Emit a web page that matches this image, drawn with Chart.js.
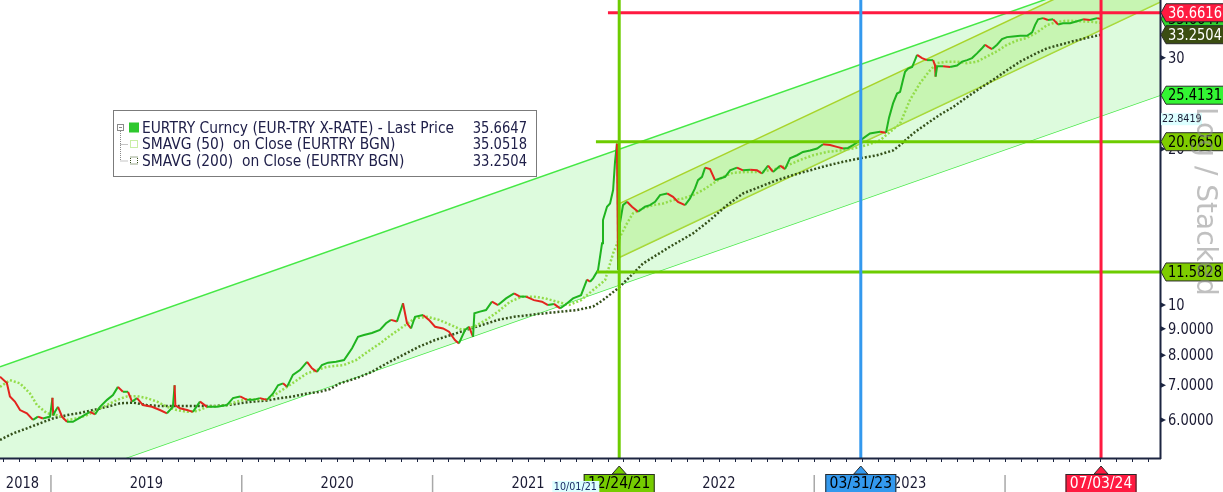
<!DOCTYPE html>
<html>
<head>
<meta charset="utf-8">
<script src="https://cdn.jsdelivr.net/npm/chart.js@4.4.1/dist/chart.umd.min.js"></script>
<style>
  html, body { margin: 0; padding: 0; background: #fff; }
</style>
</head>
<body>
<canvas id="chart" width="1223" height="492"></canvas>
<script>
// time is in decimal years, prices in TRY per EUR (log axis)
const priceT = [
  2018.733, 2018.769, 2018.785, 2018.811, 2018.838, 2018.874, 2018.906, 2018.932, 2018.958, 2018.995,
  2019.008, 2019.012, 2019.021, 2019.037, 2019.058, 2019.084, 2019.115, 2019.162, 2019.204, 2019.231,
  2019.257, 2019.294, 2019.325, 2019.351, 2019.377, 2019.404, 2019.425, 2019.451, 2019.482, 2019.529,
  2019.571, 2019.608, 2019.639, 2019.648, 2019.652, 2019.676, 2019.713, 2019.744, 2019.781, 2019.818,
  2019.870, 2019.922, 2019.954, 2019.991, 2020.027, 2020.059, 2020.095, 2020.132, 2020.164, 2020.190,
  2020.216, 2020.237, 2020.268, 2020.305, 2020.342, 2020.368, 2020.394, 2020.420, 2020.452, 2020.494,
  2020.536, 2020.578, 2020.609, 2020.640, 2020.682, 2020.724, 2020.756, 2020.782, 2020.813, 2020.845,
  2020.866, 2020.887, 2020.908, 2020.950, 2020.981, 2021.013, 2021.055, 2021.086, 2021.117, 2021.138,
  2021.170, 2021.191, 2021.212, 2021.219, 2021.248, 2021.280, 2021.311, 2021.343, 2021.385, 2021.427,
  2021.458, 2021.490, 2021.531, 2021.573, 2021.605, 2021.636, 2021.668, 2021.694, 2021.736, 2021.778,
  2021.809, 2021.825, 2021.841, 2021.867, 2021.888, 2021.893, 2021.914, 2021.930, 2021.946, 2021.956,
  2021.966, 2021.972, 2021.982, 2021.998, 2022.019, 2022.045, 2022.077, 2022.113, 2022.139, 2022.166,
  2022.192, 2022.229, 2022.260, 2022.286, 2022.323, 2022.349, 2022.375, 2022.391, 2022.412, 2022.428,
  2022.454, 2022.480, 2022.506, 2022.533, 2022.559, 2022.595, 2022.627, 2022.664, 2022.700, 2022.726,
  2022.758, 2022.784, 2022.821, 2022.847, 2022.873, 2022.910, 2022.941, 2022.978, 2023.015, 2023.046,
  2023.083, 2023.119, 2023.151, 2023.177, 2023.203, 2023.230, 2023.256, 2023.292, 2023.345, 2023.376,
  2023.392, 2023.413, 2023.434, 2023.450, 2023.465, 2023.476, 2023.492, 2023.513, 2023.528, 2023.539,
  2023.565, 2023.591, 2023.623, 2023.633, 2023.636, 2023.644, 2023.675, 2023.712, 2023.748, 2023.775,
  2023.801, 2023.827, 2023.853, 2023.879, 2023.895, 2023.911, 2023.932, 2023.958, 2023.984, 2024.010,
  2024.042, 2024.079, 2024.115, 2024.142, 2024.157, 2024.173, 2024.199, 2024.225, 2024.252, 2024.278,
  2024.304, 2024.341, 2024.377, 2024.409, 2024.445, 2024.482, 2024.503
]
const priceV = [
  7.27, 7.07, 6.66, 6.51, 6.27, 6.18, 6.00, 6.09, 6.04, 6.09,
  6.62, 6.12, 6.22, 6.36, 6.09, 5.95, 5.95, 6.09, 6.22, 6.15,
  6.36, 6.56, 6.70, 6.95, 6.80, 6.80, 6.51, 6.61, 6.41, 6.36,
  6.27, 6.18, 6.36, 7.00, 6.40, 6.32, 6.27, 6.22, 6.51, 6.36,
  6.36, 6.41, 6.61, 6.66, 6.56, 6.56, 6.61, 6.56, 6.75, 7.00,
  7.06, 6.95, 7.33, 7.49, 7.77, 7.55, 7.43, 7.66, 7.74, 7.77,
  7.83, 8.25, 8.68, 8.75, 8.83, 8.95, 9.22, 9.36, 9.29, 10.08,
  9.22, 9.01, 9.49, 9.57, 9.36, 9.08, 9.01, 8.88, 8.56, 8.43,
  8.95, 9.08, 8.68, 9.64, 9.71, 9.78, 10.15, 10.00, 10.30, 10.53,
  10.38, 10.38, 10.22, 10.15, 10.00, 10.05, 9.85, 10.00, 10.30, 10.45,
  11.20, 11.09, 11.26, 11.68, 13.16, 14.59, 15.48, 15.70, 16.67, 18.90,
  20.50, 11.70, 14.40, 15.59, 15.82, 15.48, 15.14, 15.48, 15.59, 15.82,
  16.30, 16.42, 16.18, 15.82, 15.59, 16.06, 16.79, 17.42, 17.68, 18.42,
  18.30, 17.42, 17.55, 17.68, 18.20, 18.42, 18.20, 18.25, 18.20, 17.94,
  18.58, 18.07, 18.58, 18.30, 19.19, 19.46, 19.75, 19.88, 20.05, 20.44,
  20.36, 20.20, 20.05, 20.10, 20.36, 20.66, 20.97, 21.44, 21.60, 21.50,
  23.00, 24.50, 25.60, 25.80, 27.20, 28.20, 28.60, 28.80, 29.70, 30.40,
  29.97, 29.70, 29.70, 29.00, 27.60, 28.90, 28.90, 28.80, 29.00, 29.50,
  29.70, 29.97, 30.60, 31.30, 31.80, 31.50, 31.20, 31.80, 32.60, 32.90,
  33.00, 33.10, 33.10, 33.60, 34.70, 35.60, 35.80, 35.50, 35.60, 34.80,
  35.00, 35.00, 35.30, 35.60, 35.50, 35.80, 35.66
]

const sma50T = [
  2018.733, 2018.785, 2018.838, 2018.890, 2018.927, 2018.979, 2019.031, 2019.084, 2019.136, 2019.189,
  2019.241, 2019.294, 2019.346, 2019.398, 2019.451, 2019.503, 2019.556, 2019.608, 2019.660, 2019.713,
  2019.765, 2019.818, 2019.870, 2019.922, 2019.975, 2020.027, 2020.080, 2020.132, 2020.184, 2020.237,
  2020.289, 2020.342, 2020.394, 2020.447, 2020.536, 2020.599, 2020.661, 2020.724, 2020.782, 2020.845,
  2020.908, 2020.971, 2021.034, 2021.096, 2021.154, 2021.217, 2021.280, 2021.343, 2021.406, 2021.469,
  2021.531, 2021.589, 2021.652, 2021.715, 2021.778, 2021.841, 2021.904, 2021.946, 2021.982, 2022.019,
  2022.050, 2022.103, 2022.155, 2022.208, 2022.260, 2022.312, 2022.365, 2022.417, 2022.470, 2022.522,
  2022.574, 2022.648, 2022.716, 2022.784, 2022.857, 2022.925, 2022.994, 2023.067, 2023.135, 2023.203,
  2023.276, 2023.345, 2023.450, 2023.502, 2023.554, 2023.607, 2023.644, 2023.696, 2023.748, 2023.801,
  2023.853, 2023.906, 2023.958, 2024.010, 2024.063, 2024.115, 2024.168, 2024.220, 2024.273, 2024.325,
  2024.393, 2024.461, 2024.503
]
const sma50V = [
  6.95, 7.16, 7.06, 6.75, 6.41, 6.18, 6.13, 6.00, 6.04, 6.13,
  6.27, 6.41, 6.56, 6.66, 6.67, 6.61, 6.51, 6.36, 6.27, 6.22,
  6.24, 6.36, 6.38, 6.41, 6.51, 6.58, 6.57, 6.58, 6.75, 6.95,
  7.16, 7.38, 7.49, 7.60, 7.66, 7.83, 8.13, 8.43, 8.75, 9.08,
  9.43, 9.49, 9.36, 9.15, 8.95, 9.08, 9.36, 9.71, 10.15, 10.38,
  10.38, 10.30, 10.15, 10.00, 10.22, 10.69, 11.17, 12.58, 13.54, 14.38,
  15.03, 15.37, 15.59, 15.70, 15.94, 16.06, 16.30, 16.67, 17.17, 17.68,
  18.00, 18.07, 18.07, 18.26, 18.58, 19.05, 19.46, 19.75, 19.88, 20.05,
  20.36, 20.80, 22.40, 24.90, 26.80, 28.40, 29.30, 29.50, 29.50, 29.30,
  29.50, 30.20, 30.90, 31.80, 32.40, 32.80, 33.60, 34.70, 35.20, 35.40,
  35.30, 35.20, 35.05
]

const sma200T = [
  2018.733, 2018.801, 2018.874, 2018.942, 2019.010, 2019.084, 2019.152, 2019.220, 2019.294, 2019.362,
  2019.430, 2019.503, 2019.571, 2019.713, 2019.849, 2019.922, 2019.991, 2020.059, 2020.132, 2020.200,
  2020.268, 2020.342, 2020.410, 2020.462, 2020.515, 2020.599, 2020.682, 2020.761, 2020.845, 2020.929,
  2021.013, 2021.096, 2021.175, 2021.259, 2021.343, 2021.427, 2021.510, 2021.589, 2021.673, 2021.757,
  2021.841, 2021.893, 2021.982, 2022.103, 2022.244, 2022.365, 2022.454, 2022.543, 2022.627, 2022.716,
  2022.805, 2022.889, 2022.978, 2023.067, 2023.151, 2023.240, 2023.329, 2023.413, 2023.450, 2023.518,
  2023.591, 2023.659, 2023.727, 2023.801, 2023.869, 2023.937, 2024.010, 2024.079, 2024.147, 2024.220,
  2024.288, 2024.356, 2024.430, 2024.503
]
const sma200V = [
  5.49, 5.65, 5.78, 5.91, 6.04, 6.13, 6.19, 6.27, 6.36, 6.46,
  6.48, 6.41, 6.38, 6.38, 6.38, 6.41, 6.46, 6.51, 6.54, 6.61,
  6.66, 6.75, 6.80, 6.88, 7.06, 7.22, 7.43, 7.72, 8.01, 8.31,
  8.56, 8.75, 8.95, 9.15, 9.36, 9.49, 9.57, 9.64, 9.71, 9.78,
  9.93, 10.22, 10.85, 12.03, 12.96, 13.75, 14.59, 15.59, 16.42, 16.92,
  17.42, 17.82, 18.20, 18.58, 18.90, 19.20, 19.46, 19.88, 20.36, 21.44,
  22.40, 23.30, 24.10, 25.20, 26.20, 27.20, 28.40, 29.50, 30.40, 31.30,
  31.80, 32.30, 32.80, 33.25
]

// trend channels (straight on the log axis)
const outerT = [2018.733, 2024.812]
const outerUpperV = [7.60, 46.5]
const outerLowerV = [4.164, 25.41]
const innerT = [2021.97, 2024.812]
const innerUpperV = [15.64, 48.57]
const innerLowerV = [12.31, 38.41]

const xRange = [2018.733, 2024.812]
const yRange = [5.066, 38.8]
const yearLabels = ['2018', '2019', '2020', '2021', '2022', '2023', '2024']
const yTickValues = [6, 7, 8, 9, 10, 20, 30]
const yTickLabels = ['6.0000', '7.0000', '8.0000', '9.0000', '10', '20', '30']

const markerDates = [2021.978, 2023.244, 2024.503]
const markerLabels = ['12/24/21', '03/31/23', '07/03/24']
const noteDate = 2021.748
const noteDateLabel = '10/01/21'

const levelValues = [36.6616, 20.6650, 11.5828]
const levelStarts = [2021.919, 2021.856, 2021.861]

const tagValues = [35.6647, 36.6616, 33.2504, 25.4131, 20.6650, 11.5828]
const tagLabels = ['35.6647', '36.6616', '33.2504', '25.4131', '20.6650', '11.5828']
const noteValue = 22.8419
const noteValueLabel = '22.8419'

const legendLabels = [
  'EURTRY Curncy (EUR-TRY X-RATE) - Last Price',
  'SMAVG (50)  on Close (EURTRY BGN)',
  'SMAVG (200)  on Close (EURTRY BGN)'
]
const legendValues = ['35.6647', '35.0518', '33.2504']

const C = {
  up: '#1fb41f',
  down: '#e3241e',
  sma50: '#93dc4a',
  sma200: '#34501a',
  outerLine: '#46e846',
  outerFill: '#ddfbdd',
  innerLine: '#a8d42a',
  innerFill: 'rgba(170,235,120,0.42)',
  axis: '#1c2541',
  text: '#1a1a33'
}
const LEVEL_COLORS = ['#ff1a40', '#6dcc00', '#6dcc00']
const MARKER_FILLS = ['#76cc00', '#3399ee', '#ff1a40']
const MARKER_TEXT = ['#000', '#000', '#fff']
const TAG_FILLS = ['#2fd42f', '#ff1a40', '#3b4d12', '#33f533', '#7fcc00', '#7fcc00']
const TAG_TEXT = ['#000', '#fff', '#fff', '#000', '#000', '#000']

const pts = (ts, vs) => ts.map((t, i) => ({ x: t, y: vs[i] }))

// Tahoma-ish: DejaVu Sans squeezed horizontally
function drawText(ctx, text, x, y, o = {}) {
  ctx.save()
  ctx.translate(x, y)
  ctx.scale(o.squeeze || 0.87, 1)
  ctx.font = `${o.size || 15}px "DejaVu Sans"`
  ctx.fillStyle = o.color || C.text
  ctx.textAlign = o.align || 'left'
  ctx.textBaseline = o.baseline || 'middle'
  ctx.fillText(text, 0, 0)
  ctx.restore()
}

function drawTag(ctx, py, text, fill, color) {
  const x0 = 1161, h = 18
  ctx.beginPath()
  ctx.moveTo(x0, py)
  ctx.lineTo(x0 + 5, py - h / 2)
  ctx.lineTo(1226, py - h / 2)
  ctx.lineTo(1226, py + h / 2)
  ctx.lineTo(x0 + 5, py + h / 2)
  ctx.closePath()
  ctx.fillStyle = fill
  ctx.fill()
  ctx.strokeStyle = '#2a2a2a'
  ctx.lineWidth = 1
  ctx.stroke()
  drawText(ctx, text, x0 + 7, py + 1, { color })
}

function drawMarker(ctx, px, text, fill, color) {
  ctx.beginPath()
  ctx.moveTo(px, 466)
  ctx.lineTo(px - 7, 474)
  ctx.lineTo(px + 7, 474)
  ctx.closePath()
  ctx.fillStyle = fill
  ctx.fill()
  ctx.strokeStyle = '#2a2a2a'
  ctx.lineWidth = 1
  ctx.stroke()
  const w = 71
  ctx.fillStyle = fill
  ctx.fillRect(px - w / 2, 474, w, 19)
  ctx.strokeRect(px - w / 2 + 0.5, 474.5, w - 1, 19)
  drawText(ctx, text, px, 484, { size: 16, color, align: 'center' })
}

const overlay = {
  id: 'overlay',
  afterDatasetsDraw(chart) {
    const { ctx, chartArea: a, scales: { x, y } } = chart
    ctx.save()
    levelValues.forEach((v, i) => {
      const py = y.getPixelForValue(v)
      ctx.strokeStyle = LEVEL_COLORS[i]
      ctx.lineWidth = 3
      ctx.beginPath()
      ctx.moveTo(x.getPixelForValue(levelStarts[i]), py)
      ctx.lineTo(a.right, py)
      ctx.stroke()
    })
    markerDates.forEach((t, i) => {
      const px = x.getPixelForValue(t)
      ctx.strokeStyle = i === 0 ? '#6dcc00' : MARKER_FILLS[i]
      ctx.lineWidth = 3
      ctx.beginPath()
      ctx.moveTo(px, a.top)
      ctx.lineTo(px, a.bottom)
      ctx.stroke()
    })
    ctx.restore()
  },
  afterDraw(chart) {
    const { ctx, chartArea: a, scales: { x, y } } = chart
    ctx.save()

    // axis lines
    ctx.strokeStyle = C.axis
    ctx.lineWidth = 2
    ctx.beginPath()
    ctx.moveTo(0, a.bottom + 0.5)
    ctx.lineTo(a.right + 1, a.bottom + 0.5)
    ctx.moveTo(a.right + 0.5, a.top)
    ctx.lineTo(a.right + 0.5, a.bottom + 1)
    ctx.stroke()

    // month ticks
    ctx.lineWidth = 1
    for (let yr = 2018; yr <= 2024; yr++) {
      for (let m = 0; m < 12; m++) {
        const t = yr + m / 12
        if (t < xRange[0] || t > xRange[1]) continue
        const px = Math.round(x.getPixelForValue(t)) + 0.5
        ctx.beginPath()
        ctx.moveTo(px, a.bottom + 1)
        ctx.lineTo(px, a.bottom + 4)
        ctx.stroke()
      }
    }

    // year separators and labels
    yearLabels.forEach(lbl => {
      const yr = +lbl
      const x0 = Math.max(x.getPixelForValue(yr), a.left)
      const x1 = Math.min(x.getPixelForValue(yr + 1), a.right)
      if (yr > 2018) {
        ctx.strokeStyle = '#a8a8a8'
        ctx.lineWidth = 1.5
        ctx.beginPath()
        ctx.moveTo(x0, 475)
        ctx.lineTo(x0, 492)
        ctx.stroke()
      }
      drawText(ctx, lbl, (x0 + x1) / 2 - (yr === 2018 ? 3 : 0), 484, { align: 'center' })
    })

    // y ticks
    yTickValues.forEach((v, i) => {
      const py = y.getPixelForValue(v)
      ctx.fillStyle = C.axis
      ctx.beginPath()
      ctx.moveTo(a.right + 1, py - 2.5)
      ctx.lineTo(a.right + 6, py)
      ctx.lineTo(a.right + 1, py + 2.5)
      ctx.closePath()
      ctx.fill()
      drawText(ctx, yTickLabels[i], a.right + 8, py + 1)
    })

    // value tags on the right
    tagValues.forEach((v, i) => drawTag(ctx, y.getPixelForValue(v), tagLabels[i], TAG_FILLS[i], TAG_TEXT[i]))
    const ny = y.getPixelForValue(noteValue)
    ctx.fillStyle = '#dcffff'
    ctx.fillRect(a.right + 1, ny - 6, 41, 12)
    drawText(ctx, noteValueLabel, a.right + 2, ny, { size: 11 })

    // date markers at the bottom
    markerDates.forEach((t, i) => drawMarker(ctx, x.getPixelForValue(t), markerLabels[i], MARKER_FILLS[i], MARKER_TEXT[i]))
    const nx = x.getPixelForValue(noteDate)
    ctx.fillStyle = '#dcffff'
    ctx.fillRect(nx - 23, 481, 47, 11)
    drawText(ctx, noteDateLabel, nx, 487, { size: 11, color: '#1a2a66', align: 'center' })

    // legend
    const L = { x: 113, y: 110, w: 423, h: 66 }
    ctx.fillStyle = '#fff'
    ctx.fillRect(L.x, L.y, L.w, L.h)
    ctx.strokeStyle = '#7b7b7b'
    ctx.lineWidth = 1
    ctx.strokeRect(L.x + 0.5, L.y + 0.5, L.w, L.h)
    const rows = [127.5, 144, 160.5]
    ctx.strokeStyle = '#8a8a8a'
    ctx.strokeRect(117.5, 124.5, 6, 6)
    ctx.beginPath()
    ctx.moveTo(119, 127.5)
    ctx.lineTo(122, 127.5)
    ctx.stroke()
    ctx.setLineDash([1, 1])
    ctx.beginPath()
    ctx.moveTo(120.5, 131)
    ctx.lineTo(120.5, rows[2])
    ctx.moveTo(120.5, rows[1] + 0.5)
    ctx.lineTo(128, rows[1] + 0.5)
    ctx.moveTo(120.5, rows[2] + 0.5)
    ctx.lineTo(128, rows[2] + 0.5)
    ctx.stroke()
    ctx.fillStyle = '#2ec82e'
    ctx.fillRect(129, rows[0] - 5, 10, 10)
    ctx.strokeStyle = C.sma50
    ctx.strokeRect(130.5, rows[1] - 3.5, 7, 7)
    ctx.strokeStyle = C.sma200
    ctx.strokeRect(130.5, rows[2] - 3.5, 7, 7)
    ctx.setLineDash([])
    legendLabels.forEach((lbl, i) => {
      drawText(ctx, lbl, 142, rows[i] + 1, { size: 16, color: '#20204a', squeeze: 0.865 })
      drawText(ctx, legendValues[i], 527, rows[i] + 1, { size: 16, color: '#20204a', squeeze: 0.82, align: 'right' })
    })

    // watermark
    ctx.save()
    ctx.translate(1197, 107)
    ctx.rotate(Math.PI / 2)
    ctx.font = '28px "DejaVu Sans"'
    ctx.fillStyle = 'rgba(140,140,140,0.55)'
    ctx.textBaseline = 'alphabetic'
    ctx.fillText('Log / Stacked', 0, 0)
    ctx.restore()

    ctx.restore()
  }
}

const lineBase = { pointRadius: 0, tension: 0, fill: false }

new Chart(document.getElementById('chart'), {
  type: 'line',
  data: {
    datasets: [
      { ...lineBase, label: 'Last Price', data: pts(priceT, priceV), borderWidth: 2, order: 0,
        borderColor: C.up,
        segment: { borderColor: c => c.p1.parsed.y < c.p0.parsed.y ? C.down : C.up } },
      { ...lineBase, label: 'SMAVG (50)', data: pts(sma50T, sma50V), borderColor: C.sma50,
        borderWidth: 2.5, borderDash: [2, 2], order: 1 },
      { ...lineBase, label: 'SMAVG (200)', data: pts(sma200T, sma200V), borderColor: C.sma200,
        borderWidth: 2.5, borderDash: [2, 2], order: 2 },
      { ...lineBase, label: 'inner upper', data: pts(innerT, innerUpperV), borderColor: C.innerLine,
        borderWidth: 1.5, fill: '+1', backgroundColor: C.innerFill, order: 3 },
      { ...lineBase, label: 'inner lower', data: pts(innerT, innerLowerV), borderColor: C.innerLine,
        borderWidth: 1.5, order: 3 },
      { ...lineBase, label: 'outer upper', data: pts(outerT, outerUpperV), borderColor: C.outerLine,
        borderWidth: 1.5, fill: '+1', backgroundColor: C.outerFill, order: 4 },
      { ...lineBase, label: 'outer lower', data: pts(outerT, outerLowerV), borderColor: C.outerLine,
        borderWidth: 1.5, order: 4 }
    ]
  },
  options: {
    responsive: false,
    animation: false,
    devicePixelRatio: 1,
    layout: { padding: { left: 0, top: 0, right: 63, bottom: 34 } },
    plugins: { legend: { display: false }, tooltip: { enabled: false } },
    scales: {
      x: { type: 'linear', display: false, min: xRange[0], max: xRange[1] },
      y: { type: 'logarithmic', display: false, min: yRange[0], max: yRange[1] }
    }
  },
  plugins: [overlay]
})
</script>
</body>
</html>
